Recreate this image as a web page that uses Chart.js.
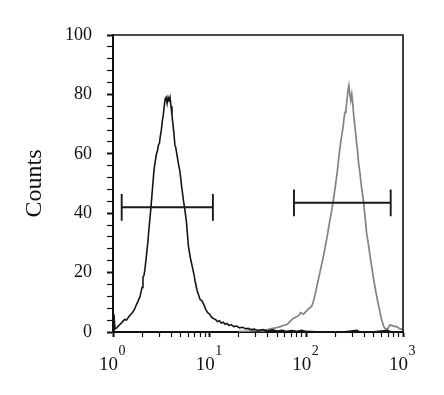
<!DOCTYPE html>
<html>
<head>
<meta charset="utf-8">
<script src="https://cdn.jsdelivr.net/npm/chart.js@4"></script>
<style>
  html, body { margin: 0; padding: 0; background: #fff; }
  canvas { display: block; }
</style>
</head>
<body>
<canvas id="c" width="444" height="395"></canvas>
<script>
// ---- data (x in decades: value = 10^exp) ----
const blackExp = [0.00,0.01,0.02,0.04,0.06,0.08,0.10,0.12,0.14,0.16,0.18,0.20,0.22,0.24,0.26,0.28,0.30,0.31,0.32,0.33,0.34,0.35,0.36,0.37,0.38,0.39,0.40,0.41,0.42,0.43,0.44,0.45,0.46,0.47,0.48,0.49,0.50,0.51,0.52,0.53,0.54,0.55,0.56,0.57,0.58,0.59,0.60,0.61,0.62,0.63,0.64,0.65,0.66,0.67,0.68,0.69,0.70,0.71,0.72,0.73,0.74,0.75,0.76,0.77,0.78,0.79,0.80,0.81,0.82,0.83,0.84,0.85,0.86,0.87,0.88,0.89,0.90,0.92,0.94,0.96,0.98,1.00,1.02,1.04,1.06,1.08,1.10,1.12,1.14,1.16,1.18,1.20,1.22,1.25,1.28,1.31,1.34,1.37,1.40,1.43,1.46,1.50,1.55,1.60,1.65,1.70,1.75,1.80,1.85,1.90,1.95,2.00,2.10,2.20,2.30,2.40,2.52,2.55,2.70,2.84,2.87,3.00];
const blackCounts = [0,6,1,1.5,2.2,2.8,3.5,4.2,4,5,5.8,6.5,7.5,9,10.5,12,15,18.5,19,21,24,27,30,34,37.5,41,45,49,53,56,58,60,61,63,63.5,66,68,71,73,76,78.5,79,77,79,78,79,76,73,70,67,63,62,60,58,56,54.5,52,49,46.5,44,42,39.5,37,33,29,27,25,23.5,22,20.5,19,17,15.5,14,13,12,11,10.5,9.2,7.5,6.5,6,5,4.5,4.2,3.5,3.8,3,3.3,2.6,2.9,2.2,2.5,1.8,2,1.4,1.6,1.1,1.2,0.8,1,0.5,0.8,0.3,0.7,0.3,0.6,0.2,0.5,0.2,0.6,0.2,0.1,0.1,0.1,0.1,0.6,0.1,0.1,0.6,0.1,0];

const grayExp = [1.30,1.40,1.50,1.55,1.60,1.65,1.70,1.73,1.76,1.80,1.83,1.86,1.89,1.92,1.94,1.97,2.00,2.03,2.055,2.08,2.10,2.12,2.14,2.16,2.18,2.20,2.22,2.24,2.26,2.28,2.30,2.32,2.34,2.36,2.38,2.39,2.40,2.41,2.42,2.43,2.44,2.45,2.46,2.47,2.48,2.49,2.50,2.51,2.52,2.53,2.54,2.555,2.57,2.59,2.61,2.624,2.64,2.66,2.676,2.70,2.728,2.75,2.779,2.80,2.814,2.84,2.866,2.90,2.934,2.96,3.00];
const grayCounts = [0.2,0.3,0.5,0.3,0.8,1.2,1.5,1.8,2.2,2.5,3.5,4.5,5,5.5,6.5,6,7,8,8.6,11,14,17,20,23,26,29.5,33,37,40.5,44.5,49,54,60,65,69,72,74,75,78,81,83,80,78,80,77,73,70,67,63.5,61,57,53.4,49,44.4,38,33.2,30,25.5,22,17,12,8.5,4,2,1.2,1,2.4,2,1.8,1.2,0.8];

// gates: start, end (intensity) and level (counts)
const gateStart = [1.23, 74.5];
const gateEnd   = [10.8, 746];
const gateLevel = [42, 43.5];
const gateCap   = 4.5;

// axis ticks
const xTickValues = [1,2,3,4,5,6,7,8,9,10,20,30,40,50,60,70,80,90,100,200,300,400,500,600,700,800,900,1000];
const xMajorValues = [1,10,100,1000];
const xTickExponents = ['0','1','2','3'];
const yLabelValues = [0,20,40,60,80,100];

// ---- build datasets ----
const toPts = (ex, ys) => ex.map((e, i) => ({ x: Math.pow(10, e), y: ys[i] }));
const gateSets = gateStart.map((s, i) => ({
  data: [
    { x: s, y: gateLevel[i] + gateCap }, { x: s, y: gateLevel[i] - gateCap },
    { x: s, y: gateLevel[i] }, { x: gateEnd[i], y: gateLevel[i] },
    { x: gateEnd[i], y: gateLevel[i] + gateCap }, { x: gateEnd[i], y: gateLevel[i] - gateCap }
  ],
  borderColor: '#1a1a1a', borderWidth: 1.9, pointRadius: 0, tension: 0, order: 0
}));

const FONT = "'Liberation Serif', 'Times New Roman', serif";

const framePlugin = {
  id: 'frame',
  afterDraw(chart) {
    const { ctx, chartArea: a } = chart;
    ctx.save();
    ctx.strokeStyle = '#111';
    ctx.lineWidth = 1.6;
    ctx.beginPath();
    ctx.moveTo(a.left, a.top);
    ctx.lineTo(a.right, a.top);
    ctx.lineTo(a.right, a.bottom);
    ctx.stroke();
    // x tick labels 10^n
    const xs = chart.scales.x;
    ctx.fillStyle = '#111';
    ctx.textBaseline = 'alphabetic';
    xTickExponents.forEach((ex) => {
      const px = xs.getPixelForValue(Math.pow(10, Number(ex)));
      ctx.font = '19px ' + FONT;
      const w1 = ctx.measureText('10').width;
      ctx.font = '14px ' + FONT;
      const w2 = ctx.measureText(ex).width;
      const start = px - 1 - (w1 + w2) / 2;
      ctx.font = '19px ' + FONT;
      ctx.textAlign = 'left';
      ctx.fillText('10', start, 370);
      ctx.font = '14px ' + FONT;
      ctx.fillText(ex, start + w1 + 0.5, 355);
    });
    ctx.restore();
  }
};

new Chart(document.getElementById('c'), {
  type: 'line',
  data: {
    datasets: [
      ...gateSets,
      { data: toPts(blackExp, blackCounts), borderColor: '#151515', borderWidth: 1.6, pointRadius: 0, tension: 0, order: 1 },
      { data: toPts(grayExp, grayCounts), borderColor: '#838383', borderWidth: 1.7, pointRadius: 0, tension: 0, order: 2 }
    ]
  },
  options: {
    responsive: false,
    animation: false,
    devicePixelRatio: 1,
    layout: { padding: { top: 35, right: 41, left: 0, bottom: 0 } },
    plugins: { legend: { display: false }, tooltip: { enabled: false } },
    scales: {
      x: {
        type: 'logarithmic',
        min: 1, max: 1000,
        afterBuildTicks: (s) => { s.ticks = xTickValues.map(v => ({ value: v })); },
        afterFit: (s) => { s.height = 395 - 332; },
        ticks: { display: false, autoSkip: false },
        grid: {
          drawOnChartArea: false, drawTicks: true, tickLength: 5,
          tickColor: '#111',
          tickWidth: (c) => xMajorValues.includes(c.tick && c.tick.value) ? 2 : 1.2
        },
        border: { display: true, color: '#111', width: 2 }
      },
      y: {
        min: 0, max: 100,
        ticks: {
          stepSize: 4, autoSkip: false, padding: 15, color: '#111',
          font: { family: FONT, size: 18 },
          callback: (v) => yLabelValues.includes(v) ? String(v) : ''
        },
        afterFit: (s) => { s.width = 113; },
        grid: {
          drawOnChartArea: false, drawTicks: true, tickLength: 6,
          tickColor: '#111',
          tickWidth: (c) => (c.tick && yLabelValues.includes(c.tick.value)) ? 2 : 1.2
        },
        border: { display: true, color: '#111', width: 2 },
        title: { display: true, text: 'Counts', color: '#111', font: { family: FONT, size: 24 }, padding: { top: 20, bottom: 0 } }
      }
    }
  },
  plugins: [framePlugin]
});
</script>
</body>
</html>
